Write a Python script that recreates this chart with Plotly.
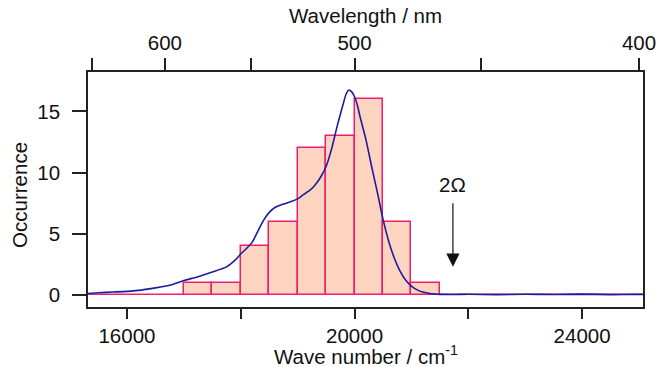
import plotly.graph_objects as go

# Histogram (bin width 500 cm-1)
bin_centers = [15250, 15750, 16250, 16750, 17250, 17750, 18250, 18750, 19250, 19750,
               20250, 20750, 21250, 21750, 22250, 22750, 23250, 23750, 24250, 24750, 25250]
bin_counts = [0, 0, 0, 0, 1, 1, 4, 6, 12, 13, 16, 6, 1, 0, 0, 0, 0, 0, 0, 0, 0]

# Spectrum curve (scaled to occurrence units)
spec_wn = [15315, 15500, 15750, 16000, 16250, 16500, 16750, 17000, 17250, 17500, 17750,
           17900, 18000, 18100, 18200, 18300, 18400, 18500, 18600, 18700, 18800, 18900,
           19000, 19100, 19200, 19300, 19400, 19500, 19600, 19700, 19800, 19850, 19900,
           19950, 20000, 20050, 20100, 20200, 20300, 20400, 20500, 20600, 20700, 20800,
           20900, 21000, 21100, 21200, 21300, 21400, 21500, 21750, 22000, 22500, 23000,
           23500, 24000, 24500, 25000, 25070]
spec_val = [0.12, 0.18, 0.24, 0.30, 0.40, 0.58, 0.80, 1.18, 1.50, 1.88, 2.30,
            2.85, 3.35, 3.80, 4.30, 5.20, 6.10, 6.75, 7.15, 7.35, 7.50, 7.65,
            7.85, 8.20, 8.50, 8.95, 9.60, 10.50, 12.00, 13.90, 15.60, 16.40, 16.75,
            16.60, 16.20, 15.50, 14.50, 12.70, 10.50, 8.40, 6.20, 4.40, 3.00, 1.95,
            1.20, 0.72, 0.42, 0.24, 0.14, 0.08, 0.05, 0.04, 0.06, 0.03, 0.06,
            0.04, 0.07, 0.03, 0.05, 0.05]

# Axis ticks
x_tickvals = [16000, 18000, 20000, 22000, 24000]
x_ticktext = ["16000", " ", "20000", " ", "24000"]
y_tickvals = [0, 5, 10, 15]
wavelength_nm = [650, 600, 550, 500, 450, 400]
wavelength_text = [" ", "600", " ", "500", " ", "400"]

# Annotation (2Ω marker)
marker_wn = 21729
marker_tip = 2.31
marker_tail = 7.62
marker_label_y = 9.0

x_range = [15315, 25070]
y_range = [-0.98, 18.22]

FONT = "Liberation Sans, Arial, Helvetica, sans-serif"
FS = 20.5
AX = "#222222"
TXT = "#111111"

fig = go.Figure()
fig.add_trace(go.Bar(
    x=bin_centers, y=bin_counts, width=500,
    marker=dict(color="#FDD4C0", line=dict(color="#EE1E6E", width=1.5)),
    showlegend=False,
))
fig.add_trace(go.Scatter(
    x=spec_wn, y=spec_val, mode="lines",
    line=dict(color="#1C1C9C", width=1.6, shape="spline", smoothing=0.6),
    showlegend=False,
))
# invisible trace for top axis
fig.add_trace(go.Scatter(x=x_range, y=[None, None], xaxis="x2", showlegend=False,
                         hoverinfo="skip"))

fig.update_layout(
    width=669, height=367,
    margin=dict(l=88, r=26, t=72, b=60),
    paper_bgcolor="white", plot_bgcolor="white",
    font=dict(family=FONT, size=FS, color=TXT),
    bargap=0,
    xaxis=dict(
        range=x_range, tickvals=x_tickvals, ticktext=x_ticktext,
        ticks="outside", ticklen=10, tickwidth=1.5, tickcolor=AX,
        showline=True, linecolor=AX, linewidth=1.5, mirror=False,
        showgrid=False, zeroline=False, automargin=False,
    ),
    xaxis2=dict(
        range=x_range, overlaying="x", side="top",
        tickvals=[1e7 / w for w in wavelength_nm], ticktext=wavelength_text,
        ticks="outside", ticklen=12, tickwidth=1.5, tickcolor=AX,
        showline=True, linecolor=AX, linewidth=1.5,
        showgrid=False, zeroline=False, automargin=False,
    ),
    yaxis=dict(
        range=y_range, tickvals=y_tickvals,
        ticks="outside", ticklen=14, tickwidth=1.5, tickcolor=AX,
        showline=True, linecolor=AX, linewidth=1.5, mirror=True,
        showgrid=False, zeroline=False, ticklabelstandoff=8, automargin=False,
    ),
    annotations=[
        dict(x=marker_wn, y=marker_tip, ax=marker_wn, ay=marker_tail,
             xref="x", yref="y", axref="x", ayref="y",
             text="", showarrow=True, arrowhead=2, arrowsize=2.2,
             arrowwidth=1.2, arrowcolor=TXT),
        dict(x=marker_wn, y=marker_label_y, xref="x", yref="y",
             text="2Ω", showarrow=False, font=dict(size=FS)),
        dict(x=0.5, y=-0.203, xref="paper", yref="paper",
             text="Wave number / cm<sup>-1</sup>", showarrow=False,
             xanchor="center", yanchor="middle", font=dict(size=FS)),
        dict(x=0.5, y=1.24, xref="paper", yref="paper",
             text="Wavelength / nm", showarrow=False,
             xanchor="center", yanchor="middle", font=dict(size=FS)),
        dict(x=-0.1225, y=0.477, xref="paper", yref="paper",
             text="Occurrence", showarrow=False, textangle=-90,
             xanchor="center", yanchor="middle", font=dict(size=FS)),
    ],
)

fig.write_html("out.html", config={"displayModeBar": False},
               post_script="document.body.style.margin='0';document.body.style.overflow='hidden';")
